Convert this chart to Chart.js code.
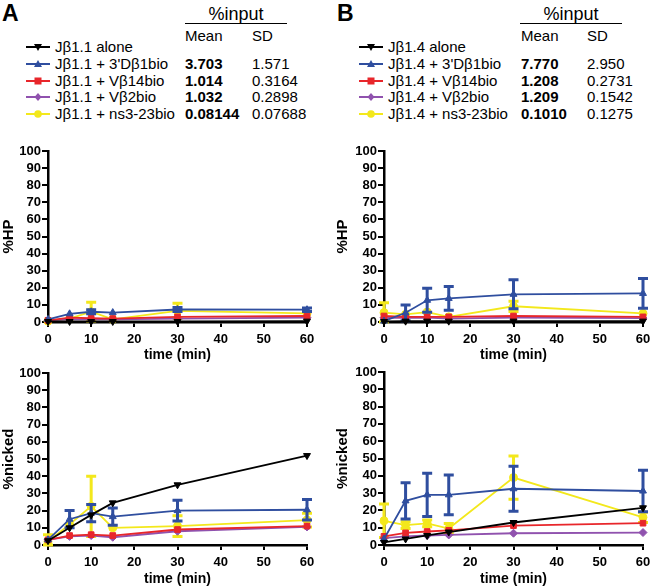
<!DOCTYPE html>
<html>
<head>
<meta charset="utf-8">
<script src="https://cdn.jsdelivr.net/npm/chart.js@4.4.1/dist/chart.umd.min.js"></script>
<style>
  html, body {
    margin: 0; padding: 0; background: #fff;
    width: 650px; height: 587px; overflow: hidden; position: relative;
    font-family: 'Liberation Sans', Arial, sans-serif; color: #000;
  }
  canvas { position: absolute; }
  .abs { position: absolute; white-space: nowrap; }
  .letter { font-size: 23px; font-weight: bold; line-height: 1; }
  .head { font-size: 18px; line-height: 18px; }
  .row { font-size: 15px; line-height: 18px; }
  .bold { font-weight: bold; }
  .rule { position: absolute; height: 0; border-top: 1.5px solid #000; }
</style>
</head>
<body>
<div id="legend"></div>
<canvas id="a-hp"></canvas>
<canvas id="a-nick"></canvas>
<canvas id="b-hp"></canvas>
<canvas id="b-nick"></canvas>
<script>
// ---------------------------------------------
// Data
// ---------------------------------------------

const times = [0, 5, 10, 15, 30, 60];

const labelsA = ["J\u03b21.1 alone", "J\u03b21.1 + 3'D\u03b21bio", "J\u03b21.1 + V\u03b214bio", "J\u03b21.1 + V\u03b22bio", "J\u03b21.1 + ns3-23bio"];
const meanA = ["", "3.703", "1.014", "1.032", "0.08144"];
const sdA = ["", "1.571", "0.3164", "0.2898", "0.07688"];

const labelsB = ["J\u03b21.4 alone", "J\u03b21.4 + 3'D\u03b21bio", "J\u03b21.4 + V\u03b214bio", "J\u03b21.4 + V\u03b22bio", "J\u03b21.4 + ns3-23bio"];
const meanB = ["", "7.770", "1.208", "1.209", "0.1010"];
const sdB = ["", "2.950", "0.2731", "0.1542", "0.1275"];

// panel A, %HP
const aHpAlone  = [0.3, 0.3, 0.3, 0.3, 0.3, 0.5];
const aHpDb1    = [1.5, 4.8, 6.0, 5.5, 7.3, 7.2];
const aHpDb1Sd  = [0, 0, 1.2, 0, 1.2, 1.0];
const aHpV14    = [1.0, 2.5, 2.2, 2.0, 3.0, 3.5];
const aHpV2     = [1.0, 1.5, 1.5, 1.5, 2.0, 2.5];
const aHpNs     = [0.5, 2.0, 6.0, 1.5, 6.5, 5.0];
const aHpNsSd   = [0, 0, 5.5, 0, 4.5, 0];

// panel A, %nicked
const aNkAlone  = [2.5, 10, 17.5, 24.5, 35, 52];
const aNkDb1    = [3.0, 15, 18.5, 16.5, 20, 20.5];
const aNkDb1Sd  = [0, 5, 5, 5, 6, 6];
const aNkV14    = [3.0, 5.5, 6.0, 5.5, 9.0, 11];
const aNkV2     = [3.0, 5.0, 5.5, 4.5, 8.0, 10.5];
const aNkNs     = [2.0, 12, 22.5, 10, 11, 14.5];
const aNkNsSd   = [4, 0, 17.5, 0, 6, 4];

// panel B, %HP
const bHpAlone  = [0.3, 0.5, 0.5, 0.5, 0.5, 0.5];
const bHpDb1    = [0.5, 5.4, 12.7, 13.8, 16.2, 16.7];
const bHpDb1Sd  = [0, 4.6, 7, 7, 8.5, 8.7];
const bHpV14    = [3.5, 3.0, 3.0, 3.0, 3.5, 3.0];
const bHpV2     = [2.5, 2.5, 2.5, 2.0, 2.5, 2.3];
const bHpNs     = [5.5, 4.5, 5.8, 3.0, 9.2, 5.0];
const bHpNsSd   = [5.7, 0, 0, 0, 3, 0];

// panel B, %nicked
const bNkAlone  = [1.5, 3.5, 5.5, 7.5, 13, 21.5];
const bNkDb1    = [3.5, 25.5, 29, 29, 32.5, 31.2];
const bNkDb1Sd  = [0, 10.5, 12.5, 11.5, 13, 12];
const bNkV14    = [5.0, 7.0, 7.8, 8.5, 11.2, 12.6];
const bNkV2     = [4.0, 5.0, 5.5, 5.8, 6.8, 7.2];
const bNkNs     = [14, 11.5, 12.5, 9.5, 39, 16];
const bNkNsSd   = [9.7, 2, 2, 3, 12.5, 3];

// ---------------------------------------------
// Styles
// ---------------------------------------------

const colors = ["#000000", "#2f4e9f", "#e8262b", "#9052ae", "#f3e81c"];
const markers = [
  { style: "triangle", rot: 180 },
  { style: "triangle", rot: 0 },
  { style: "rect", rot: 0 },
  { style: "rectRot", rot: 0 },
  { style: "circle", rot: 0 }
];

Chart.defaults.font.family = "'Liberation Sans', Arial, sans-serif";
Chart.defaults.color = "#000";

// error bars drawn right after their own dataset so layering follows the lines
const errorBars = {
  id: "errorBars",
  afterDatasetDraw(chart, args) {
    const ds = chart.data.datasets[args.index];
    if (!ds.errors) return;
    const { ctx, scales: { x, y } } = chart;
    ctx.save();
    ctx.strokeStyle = ds.borderColor;
    ctx.lineWidth = 3;
    ds.data.forEach((p, i) => {
      const e = ds.errors[i];
      if (!e) return;
      const px = x.getPixelForValue(p.x);
      const top = y.getPixelForValue(p.y + e);
      const bot = y.getPixelForValue(Math.max(p.y - e, 0));
      ctx.beginPath();
      ctx.moveTo(px, top); ctx.lineTo(px, bot);
      ctx.moveTo(px - 5, top); ctx.lineTo(px + 5, top);
      ctx.moveTo(px - 5, bot); ctx.lineTo(px + 5, bot);
      ctx.stroke();
    });
    ctx.restore();
  }
};

// ---------------------------------------------
// Build charts
// ---------------------------------------------

function buildChart(id, box, yTitle, series, errs) {
  const canvas = document.getElementById(id);
  canvas.width = box.w;
  canvas.height = box.h;
  canvas.style.left = box.left + "px";
  canvas.style.top = box.top + "px";

  new Chart(canvas, {
    type: "line",
    data: {
      datasets: series.map((vals, i) => ({
        data: vals.map((v, j) => ({ x: times[j], y: v })),
        errors: errs[i],
        borderColor: colors[i],
        backgroundColor: colors[i],
        borderWidth: 1.8,
        pointStyle: markers[i].style,
        rotation: markers[i].rot,
        pointRadius: 4,
        pointBorderWidth: 1,
        tension: 0,
        clip: false
      }))
    },
    options: {
      responsive: false,
      animation: false,
      devicePixelRatio: 1,
      layout: { padding: { top: box.padTop, right: box.padRight, left: 0, bottom: 0 } },
      plugins: { legend: { display: false }, tooltip: { enabled: false } },
      scales: {
        x: {
          type: "linear", min: 0, max: 60,
          ticks: { stepSize: 10, autoSkip: false, padding: 5, color: "#000", font: { size: 13, weight: "bold" } },
          grid: { drawOnChartArea: false, tickLength: 5, color: "#000", lineWidth: 2 },
          border: { color: "#000", width: 2.5 },
          title: { display: true, text: "time (min)", color: "#000", padding: 0, font: { size: 14, weight: "bold" } },
          afterFit: s => { s.height = box.xHeight; }
        },
        y: {
          type: "linear", min: 0, max: 100,
          ticks: { stepSize: 10, autoSkip: false, padding: 1, color: "#000", font: { size: 13, weight: "bold" } },
          grid: { drawOnChartArea: false, tickLength: 6, color: "#000", lineWidth: 2 },
          border: { color: "#000", width: 2.5 },
          title: { display: true, text: yTitle, color: "#000", padding: { top: box.titlePad, bottom: 0 }, font: { size: 15, weight: "bold" } },
          afterFit: s => { s.width = box.yWidth; }
        }
      }
    },
    plugins: [errorBars]
  });
}

buildChart("a-hp",
  { left: 0, top: 140, w: 322, h: 224, padTop: 11, padRight: 15, xHeight: 42, yWidth: 48, titlePad: 0 },
  "%HP",
  [aHpAlone, aHpDb1, aHpV14, aHpV2, aHpNs],
  [null, aHpDb1Sd, null, null, aHpNsSd]);

buildChart("a-nick",
  { left: 0, top: 362, w: 322, h: 226, padTop: 11, padRight: 15, xHeight: 43, yWidth: 48, titlePad: 0 },
  "%nicked",
  [aNkAlone, aNkDb1, aNkV14, aNkV2, aNkNs],
  [null, aNkDb1Sd, null, null, aNkNsSd]);

buildChart("b-hp",
  { left: 330, top: 140, w: 330, h: 224, padTop: 11, padRight: 17, xHeight: 42, yWidth: 54, titlePad: 4 },
  "%HP",
  [bHpAlone, bHpDb1, bHpV14, bHpV2, bHpNs],
  [null, bHpDb1Sd, null, null, bHpNsSd]);

buildChart("b-nick",
  { left: 330, top: 362, w: 330, h: 226, padTop: 10, padRight: 17, xHeight: 43, yWidth: 54, titlePad: 4 },
  "%nicked",
  [bNkAlone, bNkDb1, bNkV14, bNkV2, bNkNs],
  [null, bNkDb1Sd, null, null, bNkNsSd]);

// ---------------------------------------------
// Legend tables
// ---------------------------------------------

function markerSvg(i) {
  const c = colors[i];
  let m;
  if (i === 0) m = `<polygon points="12,9 8,2 16,2" fill="${c}"/>`;
  else if (i === 1) m = `<polygon points="12,1 8,8 16,8" fill="${c}"/>`;
  else if (i === 2) m = `<rect x="8.5" y="1.5" width="7" height="7" fill="${c}"/>`;
  else if (i === 3) m = `<polygon points="12,1 15.5,5 12,9 8.5,5" fill="${c}"/>`;
  else m = `<circle cx="12" cy="5" r="3.8" fill="${c}"/>`;
  return `<svg width="24" height="10" viewBox="0 0 24 10"><line x1="0" y1="5" x2="24" y2="5" stroke="${c}" stroke-width="2"/>${m}</svg>`;
}

function buildLegend(pos, labels, means, sds) {
  const root = document.getElementById("legend");
  let html = `<div class="abs letter" style="left:${pos.letterX}px;top:2px">${pos.letter}</div>`;
  html += `<div class="abs head" style="left:${pos.ruleX}px;width:${pos.ruleW}px;top:5px;text-align:center">%input</div>`;
  html += `<div class="rule" style="left:${pos.ruleX}px;width:${pos.ruleW}px;top:${pos.ruleY}px"></div>`;
  html += `<div class="abs row" style="left:${pos.meanX}px;top:27px">Mean</div>`;
  html += `<div class="abs row" style="left:${pos.sdX}px;top:27px">SD</div>`;
  labels.forEach((lab, i) => {
    const cy = pos.row0 + i * 16.8;
    html += `<div class="abs" style="left:${pos.iconX}px;top:${cy - 5}px;line-height:0">${markerSvg(i)}</div>`;
    html += `<div class="abs row" style="left:${pos.textX}px;top:${cy - 9}px">${lab}</div>`;
    html += `<div class="abs row bold" style="left:${pos.meanX}px;top:${cy - 9}px">${means[i]}</div>`;
    html += `<div class="abs row" style="left:${pos.sdX}px;top:${cy - 9}px">${sds[i]}</div>`;
  });
  root.insertAdjacentHTML("beforeend", html);
}

buildLegend({ letter: "A", letterX: 2, ruleX: 185, ruleW: 102, ruleY: 23, meanX: 185, sdX: 252,
              iconX: 26, textX: 55, row0: 47 }, labelsA, meanA, sdA);
buildLegend({ letter: "B", letterX: 337, ruleX: 520, ruleW: 102, ruleY: 23, meanX: 521, sdX: 587,
              iconX: 359, textX: 388, row0: 47 }, labelsB, meanB, sdB);
</script>
</body>
</html>
